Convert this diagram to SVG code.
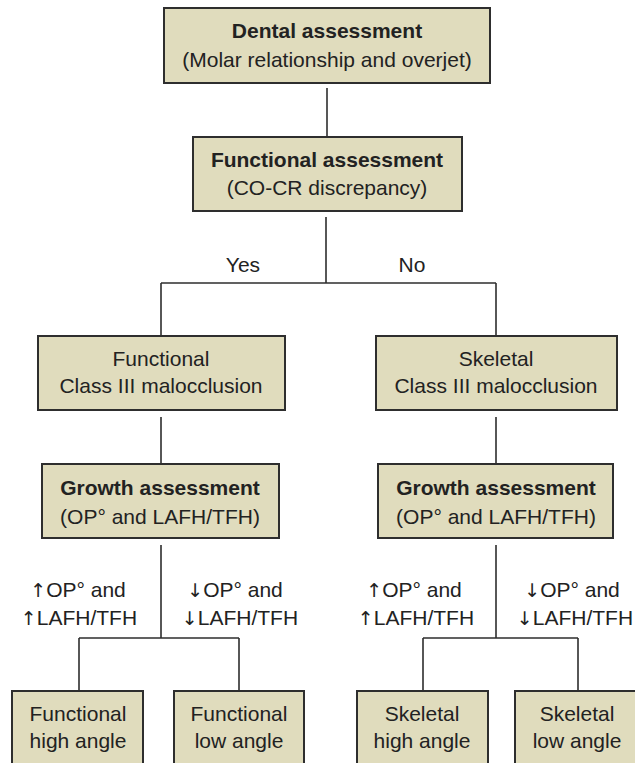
<svg xmlns="http://www.w3.org/2000/svg" width="635" height="763" viewBox="0 0 635 763">
<style>
.box{fill:#e0dcbd;stroke:#2e2e2e;stroke-width:2}
.t{font-family:"Liberation Sans",Arial,sans-serif;font-size:21px;fill:#222;text-anchor:middle}
.b{font-weight:bold}
.a{font-family:"DejaVu Sans",sans-serif;font-size:19px;fill:#222}
.c{fill:none;stroke:#2e2e2e;stroke-width:1.6}
</style>
<rect width="635" height="763" fill="#fff"/>
<g id="connectors">
<path class="c" d="M327 88V137"/>
<path class="c" d="M326 217V283M161 283H496M161 283V336M496 283V336"/>
<path class="c" d="M161 417V464M496 417V464"/>
<path class="c" d="M161 545V638M79 638H239M79 638V691M239 638V691"/>
<path class="c" d="M496 545V638M423 638H578M423 638V691M578 638V691"/>
</g>
<g id="n1"><rect class="box" x="164" y="8" width="326" height="75"/>
<text class="t b" x="327" y="38">Dental assessment</text>
<text class="t" x="327" y="67">(Molar relationship and overjet)</text></g>
<g id="n2"><rect class="box" x="193" y="137" width="269" height="74"/>
<text class="t b" x="327" y="167">Functional assessment</text>
<text class="t" x="327" y="195">(CO-CR discrepancy)</text></g>
<g id="lblYes"><text class="t" x="243" y="272">Yes</text></g>
<g id="lblNo"><text class="t" x="412" y="272">No</text></g>
<g id="n3"><rect class="box" x="38" y="336" width="247" height="74"/>
<text class="t" x="161" y="366">Functional</text>
<text class="t" x="161" y="393">Class III malocclusion</text></g>
<g id="n4"><rect class="box" x="376" y="336" width="241" height="74"/>
<text class="t" x="496" y="366">Skeletal</text>
<text class="t" x="496" y="393">Class III malocclusion</text></g>
<g id="n5"><rect class="box" x="42" y="464" width="237" height="74"/>
<text class="t b" x="160" y="495">Growth assessment</text>
<text class="t" x="160" y="524">(OP° and LAFH/TFH)</text></g>
<g id="n6"><rect class="box" x="378" y="464" width="235" height="74"/>
<text class="t b" x="496" y="495">Growth assessment</text>
<text class="t" x="496" y="524">(OP° and LAFH/TFH)</text></g>
<g id="lbl1"><text class="t" x="78" y="597"><tspan class="a">↑</tspan>OP° and</text><text class="t" x="79" y="625"><tspan class="a">↑</tspan>LAFH/TFH</text></g>
<g id="lbl2"><text class="t" x="235" y="597"><tspan class="a">↓</tspan>OP° and</text><text class="t" x="240" y="625"><tspan class="a">↓</tspan>LAFH/TFH</text></g>
<g id="lbl3"><text class="t" x="414" y="597"><tspan class="a">↑</tspan>OP° and</text><text class="t" x="416" y="625"><tspan class="a">↑</tspan>LAFH/TFH</text></g>
<g id="lbl4"><text class="t" x="572" y="597"><tspan class="a">↓</tspan>OP° and</text><text class="t" x="575" y="625"><tspan class="a">↓</tspan>LAFH/TFH</text></g>
<g id="n7"><rect class="box" x="12" y="691" width="131" height="82"/>
<text class="t" x="78" y="721">Functional</text>
<text class="t" x="78" y="748">high angle</text></g>
<g id="n8"><rect class="box" x="174" y="691" width="130" height="82"/>
<text class="t" x="239" y="721">Functional</text>
<text class="t" x="239" y="748">low angle</text></g>
<g id="n9"><rect class="box" x="357" y="691" width="131" height="82"/>
<text class="t" x="422" y="721">Skeletal</text>
<text class="t" x="422" y="748">high angle</text></g>
<g id="n10"><rect class="box" x="515" y="691" width="130" height="82"/>
<text class="t" x="577" y="721">Skeletal</text>
<text class="t" x="577" y="748">low angle</text></g>
</svg>
